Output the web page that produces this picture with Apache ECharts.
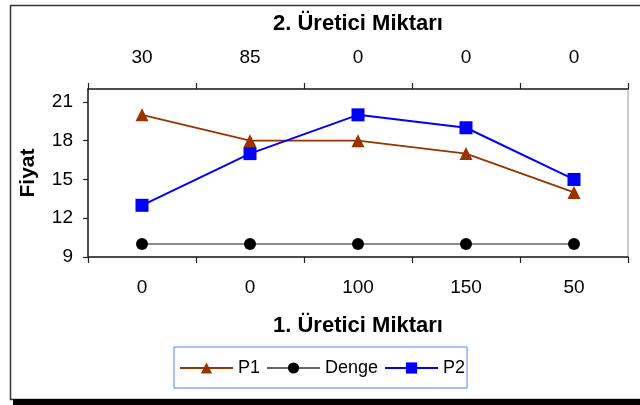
<!DOCTYPE html>
<html><head><meta charset="utf-8">
<script src="https://cdn.jsdelivr.net/npm/echarts@6/dist/echarts.min.js"></script>
<style>html,body{margin:0;padding:0;background:#fff}#c{width:640px;height:405px}</style>
</head><body><div id="c"></div>
<script>
var bottomLabels = ['0', '0', '100', '150', '50'];
var topLabels = ['30', '85', '0', '0', '0'];
var p1 = [20, 18, 18, 17, 14];
var denge = [10, 10, 10, 10, 10];
var p2 = [13, 17, 20, 19, 15];
var yTicks = {min: 9, max: 22, interval: 3};

var font = '"Liberation Sans", Arial, sans-serif';
var chart = echarts.init(document.getElementById('c'), null, {renderer: 'canvas'});
var axisLine = {lineStyle: {color: '#222', width: 1.5}};
chart.setOption({
  animation: false,
  textStyle: {fontFamily: font},
  graphic: [
    {type: 'rect', shape: {x: 10.5, y: 5.5, width: 660, height: 394}, style: {fill: 'none', stroke: '#333', lineWidth: 1.5}, z: 0},
    {type: 'rect', shape: {x: 13, y: 399, width: 627, height: 6}, style: {fill: '#000'}, z: 0}
  ],
  grid: {left: 88, right: 12, top: 89, bottom: 148, show: true, borderColor: '#999', borderWidth: 1},
  xAxis: [
    {type: 'category', position: 'bottom', data: bottomLabels, boundaryGap: true,
     axisLine: axisLine, axisTick: {show: true, length: 6, lineStyle: {color: '#222', width: 1.2}},
     axisLabel: {color: '#000', fontSize: 19, margin: 21, fontFamily: font},
     name: '1. Üretici Miktarı', nameLocation: 'middle', nameGap: 58,
     nameTextStyle: {color: '#000', fontSize: 22, fontWeight: 'bold', fontFamily: font}},
    {type: 'category', position: 'top', data: topLabels, boundaryGap: true,
     axisLine: axisLine, axisTick: {show: true, length: 6, lineStyle: {color: '#222', width: 1.2}},
     axisLabel: {color: '#000', fontSize: 19, margin: 22, fontFamily: font},
     name: '2. Üretici Miktarı', nameLocation: 'middle', nameGap: 54,
     nameTextStyle: {color: '#000', fontSize: 22, fontWeight: 'bold', fontFamily: font}},
  ],
  yAxis: {type: 'value', min: yTicks.min, max: yTicks.max, interval: yTicks.interval,
    axisLine: {show: true, lineStyle: {color: '#222', width: 1.5}},
    axisTick: {show: true, length: 5, lineStyle: {color: '#222', width: 1.2}},
    splitLine: {show: false},
    axisLabel: {color: '#000', fontSize: 19, margin: 15, showMaxLabel: false, fontFamily: font},
    name: 'Fiyat', nameLocation: 'middle', nameGap: 49, nameRotate: 90,
    nameTextStyle: {color: '#000', fontSize: 21, fontWeight: 'bold', fontFamily: font}},
  legend: {
    left: 174, top: 347, orient: 'horizontal',
    padding: [12, 2, 11, 5], itemGap: 6, itemWidth: 53, itemHeight: 14,
    borderColor: '#5b7fff', borderWidth: 1, backgroundColor: '#fff',
    textStyle: {color: '#000', fontSize: 18, fontFamily: font},
    data: ['P1', 'Denge', 'P2']
  },
  series: [
    {name: 'P1', type: 'line', data: p1, symbol: 'triangle', symbolSize: 13,
     itemStyle: {color: '#993300'}, lineStyle: {color: '#993300', width: 1.8}},
    {name: 'Denge', type: 'line', data: denge, symbol: 'circle', symbolSize: 12,
     itemStyle: {color: '#000'}, lineStyle: {color: '#666', width: 1.5}},
    {name: 'P2', type: 'line', data: p2, symbol: 'rect', symbolSize: 13,
     itemStyle: {color: '#0000ff'}, lineStyle: {color: '#0000ff', width: 2}}
  ]
});
</script></body></html>
